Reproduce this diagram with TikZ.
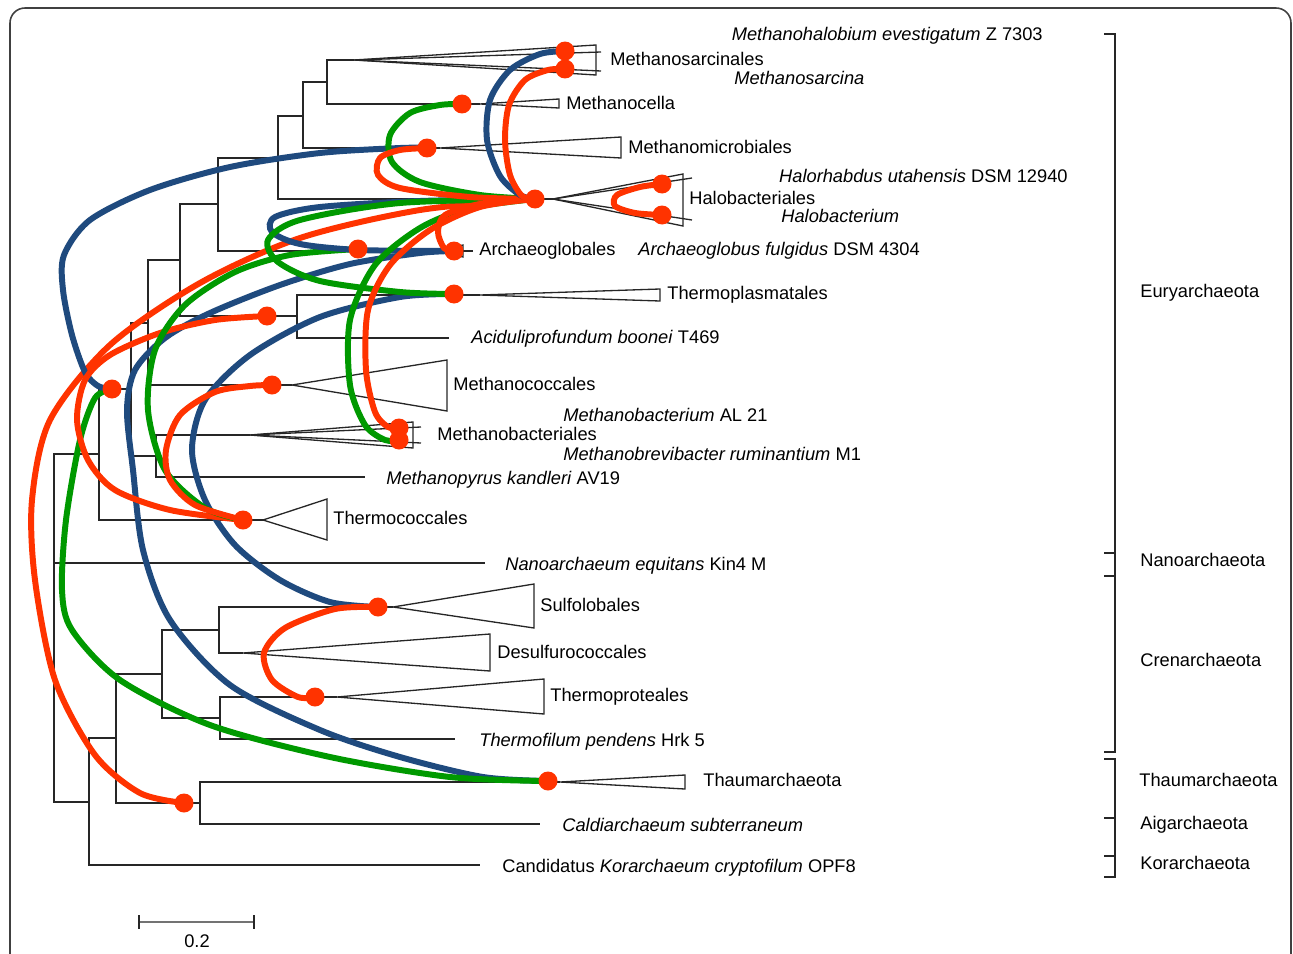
\documentclass[tikz,border=0pt]{standalone}
\usepackage{fontspec}
\setmainfont{Liberation Sans}
\definecolor{hgtred}{HTML}{FF3300}
\definecolor{hgtblue}{HTML}{1F4A7E}
\definecolor{hgtgreen}{HTML}{009900}

\begin{document}
\begin{tikzpicture}[
    x=0.02cm, y=-0.02cm,
    every node/.style={font=\fontsize{10.4}{12}\selectfont, inner sep=0pt},
    lab/.style={anchor=west, text height=7.5pt, text depth=0pt},
    rlab/.style={anchor=east, text height=7.5pt, text depth=0pt},
    branch/.style={draw=black!85, line width=0.75pt},
    bracket/.style={draw=black!85, line width=0.7pt},
    hgt/.style={line width=3.4pt, line cap=round},
    dot/.style={circle, fill=hgtred, minimum size=0.38cm}
]
\useasboundingbox (0,0) rectangle (1293,953);
\clip (0,0) rectangle (1293,953);

% Frame
\draw[black!75, line width=0.9pt, rounded corners=0.3cm] (10,990) -- (10,8) -- (1291,8) -- (1291,990);

% Internal nodes
\coordinate (r0) at (54,562);
\coordinate (eu) at (99,454);
\coordinate (a1) at (131,389);
\coordinate (mp) at (156,456);
\coordinate (a2) at (148,323);
\coordinate (a3) at (180,260);
\coordinate (tp) at (297,316);
\coordinate (a4) at (218,204);
\coordinate (a5) at (278,158);
\coordinate (a6) at (303,116);
\coordinate (a7) at (327,82);
\coordinate (cr0) at (89,802);
\coordinate (cr1) at (116,738);
\coordinate (ta) at (200,803);
\coordinate (cr2) at (162,674);
\coordinate (cr3) at (219,630);
\coordinate (cr4) at (220,718);

% Tips and clade apices
\coordinate (msarA) at (354,60);
\coordinate (mcelA) at (480,104);
\coordinate (mmicA) at (440,148);
\coordinate (haloA) at (553,199);
\coordinate (agloA) at (438,251);
\coordinate (tplaA) at (480,295);
\coordinate (acidT) at (449,338);
\coordinate (mcocA) at (292,385);
\coordinate (mbacA) at (250,435);
\coordinate (mpyrT) at (365,477);
\coordinate (tcocA) at (263,520);
\coordinate (nanoT) at (485,563);
\coordinate (sulfA) at (393,607);
\coordinate (desuA) at (243,653);
\coordinate (tproA) at (337,697);
\coordinate (tfilT) at (455,739);
\coordinate (thauA) at (560,782);
\coordinate (caldT) at (540,824);
\coordinate (korT) at (480,865);

% Tree
\draw[branch] (r0) |- (eu) (r0) |- (nanoT) (r0) |- (cr0);
\draw[branch] (eu) |- (a1) (eu) |- (tcocA);
\draw[branch] (a1) |- (a2) (a1) |- (mp);
\draw[branch] (mp) |- (mbacA) (mp) |- (mpyrT);
\draw[branch] (a2) |- (a3) (a2) |- (mcocA);
\draw[branch] (a3) |- (a4) (a3) |- (tp);
\draw[branch] (tp) |- (tplaA) (tp) |- (acidT);
\draw[branch] (a4) |- (a5) (a4) |- (agloA);
\draw[branch] (a5) |- (a6) (a5) |- (haloA);
\draw[branch] (a6) |- (a7) (a6) |- (mmicA);
\draw[branch] (a7) |- (msarA) (a7) |- (mcelA);
\draw[branch] (cr0) |- (cr1) (cr0) |- (korT);
\draw[branch] (cr1) |- (cr2) (cr1) |- (ta);
\draw[branch] (ta) |- (thauA) (ta) |- (caldT);
\draw[branch] (cr2) |- (cr3) (cr2) |- (cr4);
\draw[branch] (cr3) |- (sulfA) (cr3) |- (desuA);
\draw[branch] (cr4) |- (tproA) (cr4) |- (tfilT);

% Collapsed clades
\draw[branch] (msarA) -- (596,45) -- (596,75) -- cycle;
\draw[branch] (msarA) -- (601,52) (msarA) -- (601,71);
\draw[branch] (mcelA) -- (559,99) -- (559,108) -- cycle;
\draw[branch] (mmicA) -- (621,137) -- (621,158) -- cycle;
\draw[branch] (haloA) -- (683,174) -- (683,226) -- cycle;
\draw[branch] (haloA) -- (692,178) (haloA) -- (692,220);
\draw[branch] (agloA) -- (463,245) -- (463,257) -- cycle;
\draw[branch] (agloA) -- (473,251);
\draw[branch] (tplaA) -- (660,289) -- (660,301) -- cycle;
\draw[branch] (mcocA) -- (447,360) -- (447,411) -- cycle;
\draw[branch] (mbacA) -- (413,422) -- (413,448) -- cycle;
\draw[branch] (mbacA) -- (421,427) (mbacA) -- (421,443);
\draw[branch] (tcocA) -- (327,499) -- (327,540) -- cycle;
\draw[branch] (sulfA) -- (534,584) -- (534,628) -- cycle;
\draw[branch] (desuA) -- (490,634) -- (490,671) -- cycle;
\draw[branch] (tproA) -- (544,679) -- (544,714) -- cycle;
\draw[branch] (thauA) -- (685,775) -- (685,789) -- cycle;

% Transfer end points
\coordinate (mhal) at (565,51);
\coordinate (msar) at (565,69);
\coordinate (mcel) at (462,104);
\coordinate (mmic) at (427,148);
\coordinate (halo) at (535,199);
\coordinate (hrha) at (662,184);
\coordinate (hbac) at (662,215);
\coordinate (aglo) at (358,249);
\coordinate (aglt) at (454,251);
\coordinate (tpla) at (454,294);
\coordinate (tpac) at (267,316);
\coordinate (eury) at (112,389);
\coordinate (mcoc) at (272,385);
\coordinate (mbac) at (399,428);
\coordinate (mbre) at (399,440);
\coordinate (tcoc) at (243,520);
\coordinate (sulf) at (378,607);
\coordinate (tpro) at (315,697);
\coordinate (thau) at (548,781);
\coordinate (thai) at (184,803);

% Transfers
\draw[hgt, hgtblue] plot[smooth] coordinates {(thau) (483,777) (400,757) (320,730) (230,685) (170,620) (143,550) (133,470) (127,410) (135,370) (165,338) (210,313) (280,285) (350,264) (420,253) (aglt)};
\draw[hgt, hgtgreen] plot[smooth] coordinates {(eury) (95,398) (80,440) (66,520) (62,590) (72,630) (120,680) (210,725) (330,757) (450,777) (thau)};
\draw[hgt, hgtblue] plot[smooth] coordinates {(tpla) (400,297) (320,317) (250,355) (205,400) (192,450) (205,500) (235,545) (280,580) (330,602) (sulf)};
\draw[hgt, hgtred] plot[smooth] coordinates {(halo) (420,210) (300,238) (200,283) (110,345) (50,420) (32,500) (35,580) (55,680) (95,755) (140,793) (thai)};
\draw[hgt, hgtblue] plot[smooth] coordinates {(eury) (98,386) (85,372) (72,335) (63,290) (64,255) (90,220) (150,190) (230,167) (320,153) (400,148) (mmic)};
\draw[hgt, hgtred] plot[smooth] coordinates {(tcoc) (170,510) (115,490) (88,460) (77,420) (85,380) (110,355) (160,333) (215,320) (tpac)};
\draw[hgt, hgtgreen] plot[smooth] coordinates {(tcoc) (205,508) (165,470) (148,410) (155,350) (185,305) (235,272) (290,255) (aglo)};
\draw[hgt, hgtred] plot[smooth] coordinates {(tcoc) (195,505) (170,480) (166,450) (180,415) (215,392) (250,386) (mcoc)};
\draw[hgt, hgtblue] plot[smooth] coordinates {(halo) (420,201) (320,207) (275,217) (272,232) (300,244) (360,250) (aglt)};
\draw[hgt, hgtgreen] plot[smooth] coordinates {(halo) (400,203) (300,220) (268,240) (278,262) (320,281) (400,292) (tpla)};
\draw[hgt, hgtgreen] plot[smooth] coordinates {(halo) (470,208) (420,228) (375,265) (350,320) (350,385) (365,425) (385,440) (mbre)};
\draw[hgt, hgtred] plot[smooth] coordinates {(halo) (480,207) (430,230) (390,265) (368,310) (366,370) (375,412) (388,427) (mbac)};
\draw[hgt, hgtred] plot[smooth] coordinates {(halo) (480,204) (445,215) (438,232) (444,248) (aglt)};
\draw[hgt, hgtgreen] plot[smooth] coordinates {(halo) (480,195) (420,182) (392,162) (390,135) (410,113) (440,105) (mcel)};
\draw[hgt, hgtred] plot[smooth] coordinates {(halo) (470,197) (400,188) (378,175) (380,158) (400,150) (mmic)};
\draw[hgt, hgtblue] plot[smooth] coordinates {(halo) (520,195) (500,176) (487,140) (490,100) (510,70) (540,54) (mhal)};
\draw[hgt, hgtred] plot[smooth] coordinates {(halo) (522,196) (510,175) (505,140) (509,105) (525,80) (548,70) (msar)};
\draw[hgt, hgtred] plot[smooth] coordinates {(hrha) (640,187) (617,195) (615,206) (635,213) (hbac)};
\draw[hgt, hgtred] plot[smooth] coordinates {(sulf) (335,609) (285,628) (264,653) (272,680) (298,697) (tpro)};

% Dots
\foreach \d in {mhal, msar, mcel, mmic, halo, hrha, hbac, aglo, aglt, tpla, tpac, eury, mcoc, mbac, mbre, tcoc, sulf, tpro, thau, thai}
    \node[dot] (dot-\d) at (\d) {};

% Labels
\node[rlab] (l-mhal) at (1043,34) {\textit{Methanohalobium evestigatum} Z 7303};
\node[lab] (l-msar) at (610,59) {Methanosarcinales};
\node[lab] (l-msa) at (734,78) {\textit{Methanosarcina}};
\node[lab] (l-mcel) at (566,103) {Methanocella};
\node[lab] (l-mmic) at (628,147) {Methanomicrobiales};
\node[rlab] (l-hrha) at (1068,176) {\textit{Halorhabdus utahensis} DSM 12940};
\node[lab] (l-halo) at (689,198) {Halobacteriales};
\node[lab] (l-hbac) at (781,216) {\textit{Halobacterium}};
\node[lab] (l-aglo) at (479,249) {Archaeoglobales};
\node[lab] (l-aglf) at (638,249) {\textit{Archaeoglobus fulgidus} DSM 4304};
\node[lab] (l-tpla) at (667,293) {Thermoplasmatales};
\node[lab] (l-acid) at (471,337) {\textit{Aciduliprofundum boonei} T469};
\node[lab] (l-mcoc) at (453,384) {Methanococcales};
\node[lab] (l-mbac) at (563,415) {\textit{Methanobacterium} AL 21};
\node[lab] (l-mbal) at (437,434) {Methanobacteriales};
\node[lab] (l-mbre) at (563,454) {\textit{Methanobrevibacter ruminantium} M1};
\node[lab] (l-mpyr) at (386,478) {\textit{Methanopyrus kandleri} AV19};
\node[lab] (l-tcoc) at (333,518) {Thermococcales};
\node[lab] (l-nano) at (505,564) {\textit{Nanoarchaeum equitans} Kin4 M};
\node[lab] (l-sulf) at (540,605) {Sulfolobales};
\node[lab] (l-desu) at (497,652) {Desulfurococcales};
\node[lab] (l-tpro) at (550,695) {Thermoproteales};
\node[lab] (l-tfil) at (479,740) {\textit{Thermofilum pendens} Hrk 5};
\node[lab] (l-thau) at (703,780) {Thaumarchaeota};
\node[lab] (l-cald) at (562,825) {\textit{Caldiarchaeum subterraneum}};
\node[lab] (l-kor) at (502,866) {Candidatus \textit{Korarchaeum cryptofilum} OPF8};

% Groups
\draw[bracket] (1104,34) -- (1115,34) -- (1115,553) -- (1104,553);
\draw[bracket] (1104,553) -- (1115,553) -- (1115,576) -- (1104,576);
\draw[bracket] (1104,576) -- (1115,576) -- (1115,752) -- (1104,752);
\draw[bracket] (1104,759) -- (1115,759) -- (1115,818) -- (1104,818);
\draw[bracket] (1104,818) -- (1115,818) -- (1115,856) -- (1104,856);
\draw[bracket] (1104,856) -- (1115,856) -- (1115,877) -- (1104,877);
\node[lab] (g-eury) at (1140,291) {Euryarchaeota};
\node[lab] (g-nano) at (1140,560) {Nanoarchaeota};
\node[lab] (g-cren) at (1140,660) {Crenarchaeota};
\node[lab] (g-thau) at (1139,780) {Thaumarchaeota};
\node[lab] (g-aig) at (1140,823) {Aigarchaeota};
\node[lab] (g-kor) at (1140,863) {Korarchaeota};

% Scale bar
\coordinate (sb1) at (139,922);
\coordinate (sb2) at (254,922);
\draw[black!55, line width=1.2pt] (sb1) -- (sb2);
\draw[branch] ([yshift=0.14cm]sb1) -- ([yshift=-0.14cm]sb1) ([yshift=0.14cm]sb2) -- ([yshift=-0.14cm]sb2);
\node[text height=7.5pt, text depth=0pt] (sb-lab) at (197,941) {0.2};

\end{tikzpicture}
\end{document}
